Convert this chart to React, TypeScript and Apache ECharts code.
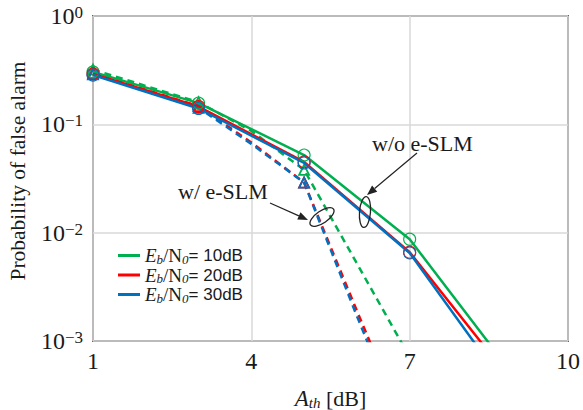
import React, { useEffect, useRef } from "react";
import * as echarts from "echarts";

// ---- data ----
const snrLabels = ["10dB", "20dB", "30dB"];
const seriesColors = ["#00B050", "#FF0000", "#0070C0"];

// without e-SLM (solid, circle markers)
const solidX = [1, 3, 5, 7, 9];
const solid10 = [0.305, 0.157, 0.052, 0.0087, 0.00046];
const solid20 = [0.292, 0.146, 0.045, 0.0066, 0.00039];
const solid30 = [0.285, 0.14, 0.044, 0.0065, 0.00029];

// with e-SLM (dashed, triangle markers)
const dashedX = [1, 3, 4, 5, 6, 7];
const dashedMarked = [true, true, false, true, false, false];
const dashed10 = [0.32, 0.16, 0.087, 0.038, 0.0052, 0.00071];
const dashed20 = [0.295, 0.147, 0.068, 0.029, 0.0019, 0.00013];
const dashed30 = [0.29, 0.142, 0.066, 0.029, 0.0017, 0.00011];

const xMin = 1;
const xMax = 10;
const xStep = 3;
const yMin = 0.001;
const yMax = 1;

const FONT = '"Liberation Serif", "Times New Roman", serif';
const SANS = '"Liberation Sans", Arial, sans-serif';

function arrow(x1: number, y1: number, x2: number, y2: number) {
  const dx = x2 - x1;
  const dy = y2 - y1;
  const len = Math.sqrt(dx * dx + dy * dy);
  const ux = dx / len;
  const uy = dy / len;
  const hl = 10;
  const hw = 4;
  const bx = x2 - ux * hl;
  const by = y2 - uy * hl;
  return [
    {
      type: "line",
      shape: { x1, y1, x2: bx, y2: by },
      style: { stroke: "#222", lineWidth: 1.2 },
      z: 100,
    },
    {
      type: "polygon",
      shape: {
        points: [
          [x2, y2],
          [bx - uy * hw, by + ux * hw],
          [bx + uy * hw, by - ux * hw],
        ],
      },
      style: { fill: "#222" },
      z: 100,
    },
  ];
}

export default function App() {
  const ref = useRef<HTMLDivElement>(null);

  useEffect(() => {
    document.body.style.margin = "0";
    if (!ref.current) return;
    const chart = echarts.init(ref.current, undefined, { renderer: "svg" });

    const solids = [solid10, solid20, solid30];
    const dasheds = [dashed10, dashed20, dashed30];
    const names = snrLabels.map((l) => "Eb/N0= " + l);

    const dashedSeries = dasheds.map((vals, i) => ({
      name: "w/ e-SLM " + snrLabels[i],
      type: "line",
      data: dashedX.map((x, k) =>
        dashedMarked[k] ? [x, vals[k]] : { value: [x, vals[k]], symbol: "none" }
      ),
      symbol: "triangle",
      symbolSize: 10,
      clip: true,
      lineStyle: { color: seriesColors[i], width: 2.5, type: [7, 5] },
      itemStyle: { color: "rgba(0,0,0,0)", borderColor: seriesColors[i], borderWidth: 1.8 },
      z: 2,
    }));

    const solidSeries = solids.map((vals, i) => ({
      name: names[i],
      type: "line",
      data: solidX.map((x, k) => [x, vals[k]]),
      symbol: "circle",
      symbolSize: 12,
      clip: true,
      lineStyle: { color: seriesColors[i], width: 2.5 },
      itemStyle: { color: "rgba(0,0,0,0)", borderColor: seriesColors[i], borderWidth: 1.1 },
      z: 3,
    }));

    const supText = (e: number) => (e < 0 ? "\u2212" + -e : String(e));

    chart.setOption({
      animation: false,
      backgroundColor: "#ffffff",
      grid: {
        left: 93,
        right: 15,
        top: 16,
        bottom: 69,
        show: true,
        borderColor: "#666666",
        borderWidth: 2,
        containLabel: false,
        outerBoundsMode: "none",
      },
      xAxis: {
        type: "value",
        min: xMin,
        max: xMax,
        interval: xStep,
        axisLine: { show: false },
        axisTick: { show: false },
        splitLine: { show: true, lineStyle: { color: "#d9d9d9", width: 1.5 } },
        axisLabel: {
          margin: 8,
          color: "#1a1a1a",
          fontFamily: FONT,
          fontSize: 24,
        },
        name: "{a|A}{t|th}{r| [dB]}",
        nameLocation: "middle",
        nameGap: 45,
        nameTextStyle: {
          color: "#1a1a1a",
          rich: {
            a: { fontFamily: FONT, fontStyle: "italic", fontSize: 23, lineHeight: 24, color: "#1a1a1a" },
            t: {
              fontFamily: FONT,
              fontStyle: "italic",
              fontSize: 15,
              lineHeight: 15,
              verticalAlign: "bottom",
              color: "#1a1a1a",
            },
            r: { fontFamily: FONT, fontSize: 22, lineHeight: 24, color: "#1a1a1a" },
          },
        },
      },
      yAxis: {
        type: "log",
        logBase: 10,
        min: yMin,
        max: yMax,
        axisLine: { show: false },
        axisTick: { show: false },
        splitLine: { show: true, lineStyle: { color: "#d9d9d9", width: 1.5 } },
        axisLabel: {
          margin: 10,
          formatter: (v: number) => {
            const e = Math.round(Math.log10(v));
            return "{b|10}{s|" + supText(e) + "}";
          },
          rich: {
            b: { fontFamily: FONT, fontSize: 24, lineHeight: 26, color: "#1a1a1a" },
            s: {
              fontFamily: FONT,
              fontSize: 17,
              lineHeight: 16,
              verticalAlign: "top",
              padding: [1, 0, 0, 0],
              color: "#1a1a1a",
            },
          },
        },
      },
      legend: {
        orient: "vertical",
        left: 118,
        top: 246,
        padding: 0,
        itemGap: 0,
        itemWidth: 22,
        itemHeight: 3,
        selectedMode: false,
        data: names.map((n, i) => ({
          name: n,
          icon: "rect",
          itemStyle: { color: seriesColors[i], borderWidth: 0 },
        })),
        formatter: (name: string) => {
          const v = name.split("= ")[1];
          return "{e|E}{sb|b}{n|/N}{sb|0}{t|= " + v + "}";
        },
        textStyle: {
          color: "#1a1a1a",
          rich: {
            e: { fontFamily: FONT, fontStyle: "italic", fontSize: 19, lineHeight: 20, color: "#1a1a1a" },
            sb: {
              fontFamily: FONT,
              fontStyle: "italic",
              fontSize: 13,
              lineHeight: 12,
              verticalAlign: "bottom",
              color: "#1a1a1a",
            },
            n: { fontFamily: FONT, fontSize: 19, lineHeight: 20, color: "#1a1a1a" },
            t: { fontFamily: SANS, fontSize: 17, lineHeight: 20, color: "#1a1a1a" },
          },
        },
      },
      series: [...dashedSeries, ...solidSeries],
      graphic: [
        {
          type: "text",
          x: 18,
          y: 171,
          rotation: Math.PI / 2,
          style: {
            text: "Probability of false alarm",
            fontFamily: FONT,
            fontSize: 21.5,
            fill: "#1a1a1a",
            align: "center",
            verticalAlign: "middle",
          },
        },
        {
          type: "text",
          x: 372,
          y: 143,
          style: {
            text: "w/o e-SLM",
            fontFamily: FONT,
            fontSize: 22,
            fill: "#1a1a1a",
            align: "left",
            verticalAlign: "middle",
          },
          z: 100,
        },
        {
          type: "text",
          x: 178,
          y: 191,
          style: {
            text: "w/ e-SLM",
            fontFamily: FONT,
            fontSize: 22,
            fill: "#1a1a1a",
            align: "left",
            verticalAlign: "middle",
          },
          z: 100,
        },
        ...arrow(417, 153, 367, 195),
        ...arrow(270, 203, 308, 220),
        {
          type: "ellipse",
          x: 365,
          y: 212,
          rotation: -0.08,
          shape: { cx: 0, cy: 0, rx: 5.5, ry: 15.5 },
          style: { fill: "none", stroke: "#222", lineWidth: 1.3 },
          z: 100,
        },
        {
          type: "ellipse",
          x: 322,
          y: 217,
          rotation: 0.6,
          shape: { cx: 0, cy: 0, rx: 14, ry: 6 },
          style: { fill: "none", stroke: "#222", lineWidth: 1.3 },
          z: 100,
        },
      ],
    });

    return () => chart.dispose();
  }, []);

  return (
    <div
      ref={ref}
      style={{ position: "fixed", left: 0, top: 0, width: 583, height: 410 }}
    />
  );
}
